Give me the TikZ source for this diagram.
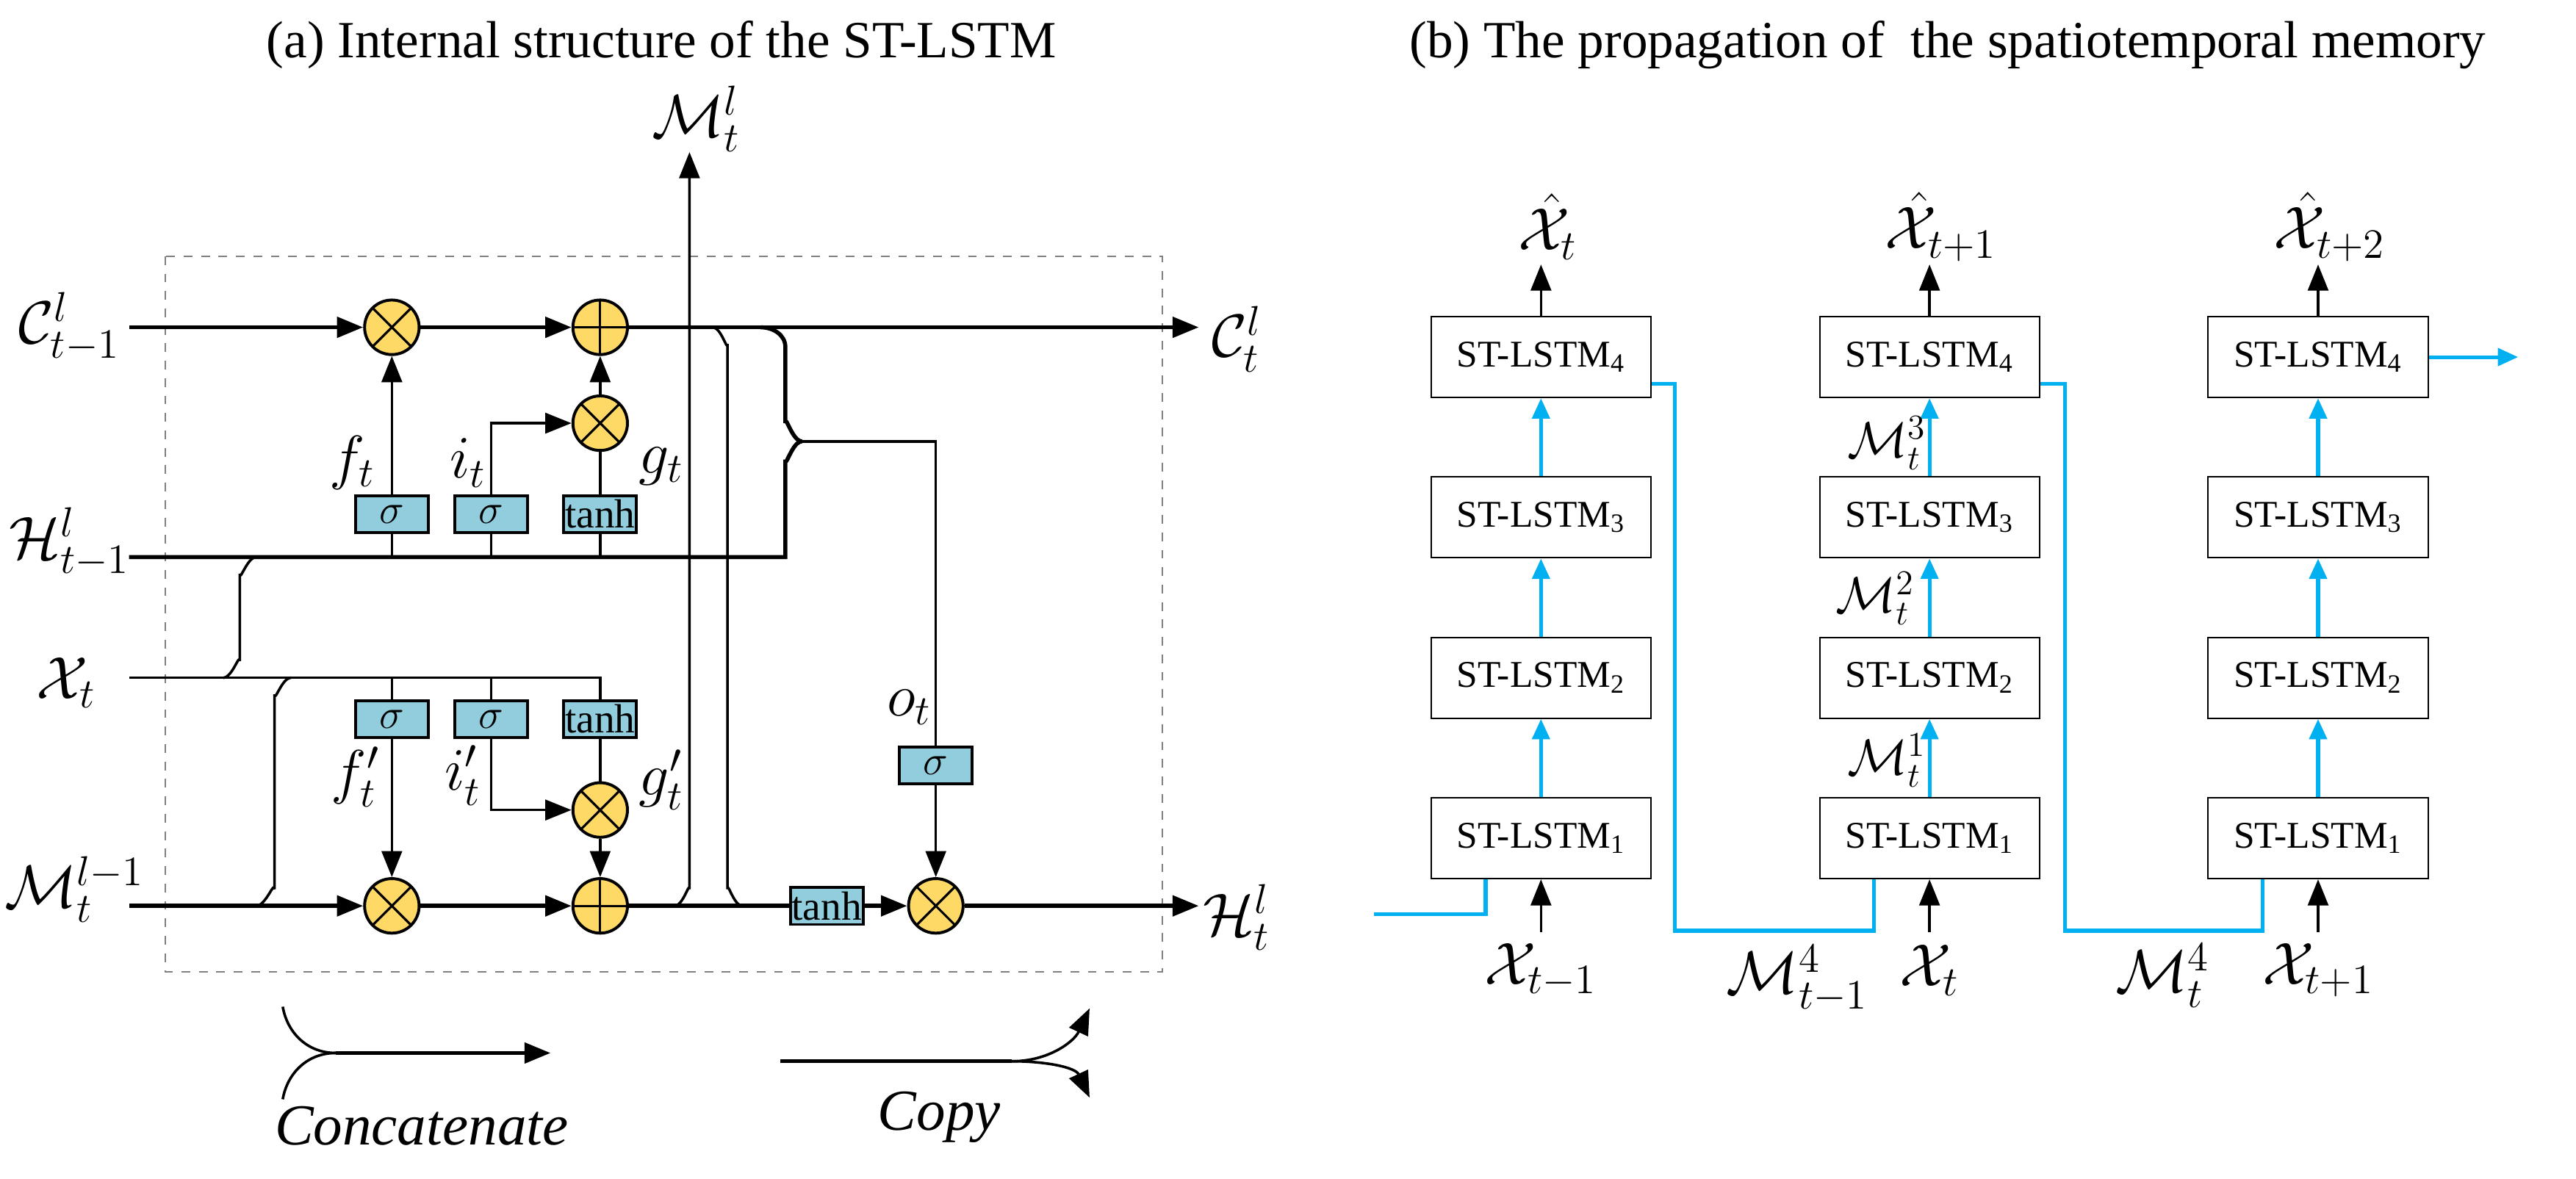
\documentclass[tikz,border=0pt]{standalone}
\usepackage{fontspec}
\setmainfont{Liberation Serif}[ItalicFont={Liberation Serif Italic}]
\usetikzlibrary{arrows.meta,calc}
\definecolor{gateyellow}{RGB}{255,217,102}
\definecolor{gateblue}{RGB}{146,205,221}
\definecolor{memblue}{RGB}{0,176,240}
\tikzset{
  main/.style={line width=1.4pt},
  stem/.style={line width=0.9pt},
  arr/.style={-{Triangle[length=9pt,width=7pt]}},
  barr/.style={-{Triangle[length=7pt,width=6pt]}},
  op/.style={circle,draw,line width=1pt,fill=gateyellow,minimum size=0.66cm,inner sep=0pt},
  mul/.style={op,path picture={\draw[line width=0.8pt]
      (path picture bounding box.north west) -- (path picture bounding box.south east)
      (path picture bounding box.north east) -- (path picture bounding box.south west);}},
  add/.style={op,path picture={\draw[line width=0.8pt]
      (path picture bounding box.north) -- (path picture bounding box.south)
      (path picture bounding box.east) -- (path picture bounding box.west);}},
  gate/.style={draw,line width=1pt,fill=gateblue,minimum width=0.88cm,minimum height=0.45cm,
      inner sep=0pt,font=\fontsize{14}{14}\selectfont},
  lstm/.style={draw,line width=0.5pt,minimum width=2.66cm,minimum height=0.98cm,
      font=\fontsize{13}{15}\selectfont},
  mem/.style={draw=memblue,line width=1.3pt},
  lab/.style={inner sep=1pt,font=\fontsize{20}{24}\selectfont},
  slab/.style={inner sep=1pt,font=\fontsize{18}{22}\selectfont},
  leg/.style={inner sep=1pt,font=\fontsize{20}{24}\selectfont\itshape},
}
\begin{document}
\begin{tikzpicture}[x=0.02cm,y=-0.02cm]
  \useasboundingbox (0,0) rectangle (1558,713);
  % titles
  \node[font=\fontsize{18}{22}\selectfont] (ta) at (400,27) {(a) Internal structure of the ST-LSTM};
  \node[font=\fontsize{18}{22}\selectfont] (tb) at (1178,27) {(b) The propagation of \ the spatiotemporal memory};

  % ---- (a) ----
  \draw[dashed,gray,line width=0.5pt] (100,155) rectangle (703,588);
  \coordinate (cin) at (78,198);
  \coordinate (hin) at (78,337);
  \coordinate (xin) at (78,410);
  \coordinate (min) at (78,548);
  \coordinate (cout) at (725,198);
  \coordinate (hout) at (725,548);
  \coordinate (mtop) at (417,92);
  \node[lab] (lc) at (42,198) {$\mathcal{C}_{t-1}^{l}$};
  \node[lab] (lh) at (42,328) {$\mathcal{H}_{t-1}^{l}$};
  \node[lab] (lx) at (40,413) {$\mathcal{X}_{t}$};
  \node[lab] (lm) at (45,538) {$\mathcal{M}_{t}^{l-1}$};
  \node[lab] (lco) at (748,205) {$\mathcal{C}_{t}^{l}$};
  \node[lab] (lho) at (748,555) {$\mathcal{H}_{t}^{l}$};
  \node[lab] (lml) at (421,72) {$\mathcal{M}_{t}^{l}$};

  \node[mul] (m1) at (237,198) {};
  \node[add] (a1) at (363,198) {};
  \node[mul] (m2) at (363,256) {};
  \node[gate] (sf) at (237,311) {$\sigma$};
  \node[gate] (si) at (297,311) {$\sigma$};
  \node[gate] (sg) at (363,311) {tanh};
  \node[gate] (bf) at (237,435) {$\sigma$};
  \node[gate] (bi) at (297,435) {$\sigma$};
  \node[gate] (bg) at (363,435) {tanh};
  \node[mul] (m3) at (363,490) {};
  \node[mul] (m4) at (237,548) {};
  \node[add] (a2) at (363,548) {};
  \node[gate] (so) at (566,463) {$\sigma$};
  \node[gate] (th) at (500,548) {tanh};
  \node[mul] (m5) at (566,548) {};

  \node[lab] (lf) at (213,280) {$f_t$};
  \node[lab] (li) at (283,280) {$i_t$};
  \node[lab] (lg) at (400,282) {$g_t$};
  \node[lab] (lf2) at (215,470) {$f_t'$};
  \node[lab] (li2) at (280,469) {$i_t'$};
  \node[lab] (lg2) at (400,472) {$g_t'$};
  \node[lab] (lo) at (550,428) {$o_t$};

  % C row
  \draw[main,arr] (cin) -- (m1);
  \draw[main,arr] (m1) -- (a1);
  \draw[main,arr] (a1) -- (cout);
  % H row and gates
  \draw[main] (hin) -- (475,337) -- (475,278) to[out=-90,in=180] (485,267);
  \draw[main] (460,198) to[out=0,in=90] (475,210) -- (475,256) to[out=90,in=180] (485,267);
  \draw[stem] (485,267) -- (566,267) -- (so);
  \draw[stem,arr] (so) -- (m5);
  \draw[stem] (sf |- hin) -- (sf);
  \draw[stem] (si |- hin) -- (si);
  \draw[stem] (sg |- hin) -- (sg);
  \draw[stem,arr] (sf) -- (m1);
  \draw[stem,arr] (si) |- (m2);
  \draw[stem] (sg) -- (m2);
  \draw[stem,arr] (m2) -- (a1);
  % X row and gates
  \draw[stem] (xin) -- (363,410) -- (bg);
  \draw[stem] (bf |- xin) -- (bf);
  \draw[stem] (bi |- xin) -- (bi);
  \draw[stem] (135,410) to[out=0,in=90] (145,400) -- (145,347) to[out=-90,in=180] (155,337);
  \draw[stem] (155,548) to[out=0,in=90] (166,538) -- (166,420) to[out=-90,in=180] (176,410);
  \draw[stem,arr] (bf) -- (m4);
  \draw[stem,arr] (bi) |- (m3);
  \draw[stem] (bg) -- (m3);
  \draw[stem,arr] (m3) -- (a2);
  % M row
  \draw[main,arr] (min) -- (m4);
  \draw[main,arr] (m4) -- (a2);
  \draw[main] (a2) -- (th);
  \draw[main,arr] (th) -- (m5);
  \draw[main,arr] (m5) -- (hout);
  \draw[stem,arr] (408,548) to[out=0,in=90] (417,538) -- (mtop);
  \draw[stem] (431,198) to[out=0,in=-90] (440,208) -- (440,538) to[out=90,in=180] (449,548);

  % legend
  \draw[stem] (171,609) to[out=-80,in=180] (203,637);
  \draw[stem] (171,665) to[out=80,in=180] (203,637);
  \draw[main,arr] (203,637) -- (333,637);
  \draw[main] (472,642) -- (612,642);
  \draw[stem,arr] (612,642) to[out=0,in=-115] (659,610);
  \draw[stem,arr] (612,642) to[out=0,in=115] (659,664);
  \node[leg] (lcat) at (255,681) {Concatenate};
  \node[leg] (lcopy) at (568,676) {Copy};

  % ---- (b) ----
  \foreach \c/\x/\s in {1/932/t-1,2/1167/t,3/1402/t+1}{
    \foreach \r/\y in {1/507,2/410,3/313,4/216}
      \node[lstm] (b\c\r) at (\x,\y) {ST-LSTM\textsubscript{\r}};
    \foreach \r/\q in {1/2,2/3,3/4}
      \draw[mem,barr] (b\c\r) -- (b\c\q);
    \node[lab] (xi\c) at (\x,587) {$\mathcal{X}_{\s}$};
    \draw[stem,arr] (\x,564) -- (b\c1);
  }
  \node[lab] (xh1) at (936,137) {$\hat{\mathcal{X}}_{t}$};
  \node[lab] (xh2) at (1174,137) {$\hat{\mathcal{X}}_{t+1}$};
  \node[lab] (xh3) at (1409,137) {$\hat{\mathcal{X}}_{t+2}$};
  \foreach \c in {1,2,3}
    \draw[stem,arr] (b\c4) -- (b\c4 |- 0,160);

  \coordinate (e0) at (831,553);
  \coordinate (d1) at (1013,563);
  \coordinate (d2) at (1249,563);
  \coordinate (eout) at (1523,216);
  \draw[mem] (e0) -| ($(b11.south)!0.5!(b11.south west)$);
  \draw[mem] ([yshift=-0.32cm]b14.east) -| (d1) -| ($(b21.south)!0.5!(b21.south west)$);
  \draw[mem] ([yshift=-0.32cm]b24.east) -| (d2) -| ($(b31.south)!0.5!(b31.south west)$);
  \draw[mem,barr] (b34) -- (eout);

  \node[slab] (mt3) at (1141,268) {$\mathcal{M}_{t}^{3}$};
  \node[slab] (mt2) at (1134,362) {$\mathcal{M}_{t}^{2}$};
  \node[slab] (mt1) at (1141,460) {$\mathcal{M}_{t}^{1}$};
  \node[lab] (mp4) at (1087,592) {$\mathcal{M}_{t-1}^{4}$};
  \node[lab] (mq4) at (1308,590) {$\mathcal{M}_{t}^{4}$};
\end{tikzpicture}
\end{document}
